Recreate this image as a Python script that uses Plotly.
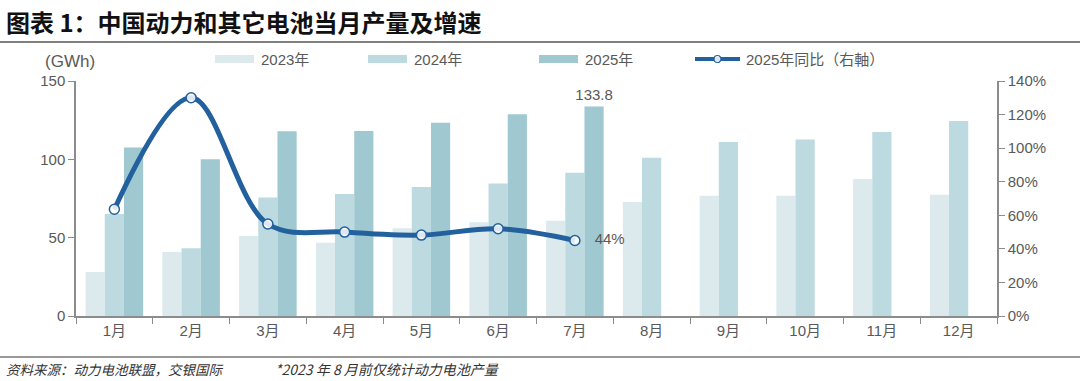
import plotly.graph_objects as go

months = ["1月", "2月", "3月", "4月", "5月", "6月", "7月", "8月", "9月", "10月", "11月", "12月"]
v2023 = [28.1, 40.8, 51.1, 46.8, 56.0, 59.8, 60.8, 72.8, 76.8, 76.8, 87.4, 77.4]
v2024 = [65.1, 43.2, 75.7, 77.9, 82.3, 84.5, 91.5, 101.0, 111.0, 112.7, 117.4, 124.4]
v2025 = [107.6, 100.0, 118.0, 118.1, 123.4, 128.7, 133.8]
yoy2025 = [63.6, 130.0, 54.8, 50.0, 48.2, 52.0, 45.0]
last_yoy_label = "44%"
series_names = ["2023年", "2024年", "2025年", "2025年同比（右軸）"]
left_ticks = [0, 50, 100, 150]
right_ticks = [0, 20, 40, 60, 80, 100, 120, 140]

W, H = 1080, 381
L, R, T, B = 76, 997, 81, 316

c23, c24, c25, cl = "#DCEAEE", "#BCDADF", "#9FC8D0", "#22609E"
FONT = "Liberation Sans, Noto Sans CJK SC, sans-serif"
CJK = "Noto Sans CJK SC, sans-serif"
grey = "#595959"

fig = go.Figure()
fig.add_bar(x=months, y=v2023, name=series_names[0], marker_color=c23, marker_line_width=0)
fig.add_bar(x=months, y=v2024, name=series_names[1], marker_color=c24, marker_line_width=0)
lbl = ["" for _ in v2025]
lbl[-1] = f"{v2025[-1]:.1f}"
fig.add_bar(x=months[:len(v2025)], y=v2025, name=series_names[2], marker_color=c25, marker_line_width=0,
            text=lbl, textposition="outside", constraintext="none",
            textfont=dict(size=15, color=grey, family=FONT), cliponaxis=False)
ltxt = ["" for _ in yoy2025]
ltxt[-1] = "   " + last_yoy_label
fig.add_scatter(x=months[:len(yoy2025)], y=yoy2025, yaxis="y2", name=series_names[3],
                mode="lines+markers+text", text=ltxt, textposition="middle right",
                textfont=dict(size=15, color=grey, family=FONT),
                line=dict(color=cl, width=5, shape="spline", smoothing=1.0),
                marker=dict(symbol="circle", size=10, color="rgba(255,255,255,0.85)", line=dict(color=cl, width=1.5)),
                cliponaxis=False)

def px(x):
    return (x - L) / (R - L)

def py(y):
    return (B - y) / (B - T)

shapes = []
annotations = []
leg = [(215, c23, series_names[0]), (368, c24, series_names[1]), (539, c25, series_names[2])]
for x0, col, name in leg:
    shapes.append(dict(type="rect", xref="paper", yref="paper", x0=px(x0), x1=px(x0 + 39),
                       y0=py(63), y1=py(55), fillcolor=col, line_width=0))
    annotations.append(dict(xref="paper", yref="paper", x=px(x0 + 44), y=py(59), text=name,
                            showarrow=False, xanchor="left", yanchor="middle",
                            font=dict(size=15, color=grey, family=FONT)))
shapes.append(dict(type="line", xref="paper", yref="paper", x0=px(695), x1=px(740), y0=py(59), y1=py(59),
                   line=dict(color=cl, width=4)))
shapes.append(dict(type="circle", xref="paper", yref="paper", x0=px(714), x1=px(721), y0=py(62.5), y1=py(55.5),
                   fillcolor="rgba(255,255,255,0.85)", line=dict(color=cl, width=1.2)))
annotations.append(dict(xref="paper", yref="paper", x=px(744), y=py(59), text=series_names[3],
                        showarrow=False, xanchor="left", yanchor="middle",
                        font=dict(size=15, color=grey, family=FONT)))
annotations.append(dict(xref="paper", yref="paper", x=px(4), y=py(21), text="<b>图表 1：中国动力和其它电池当月产量及增速</b>",
                        showarrow=False, xanchor="left", yanchor="middle",
                        font=dict(size=24, color="#111111", family=CJK)))
shapes.append(dict(type="line", xref="paper", yref="paper", x0=px(0), x1=px(W), y0=py(42), y1=py(42),
                   line=dict(color="#555555", width=1.5)))
shapes.append(dict(type="line", xref="paper", yref="paper", x0=px(0), x1=px(W), y0=py(357), y1=py(357),
                   line=dict(color="#333333", width=1.2)))
annotations.append(dict(xref="paper", yref="paper", x=px(4), y=py(369),
                        text="<i>资料来源：动力电池联盟，交银国际</i>",
                        showarrow=False, xanchor="left", yanchor="middle",
                        font=dict(size=13.5, color="#333333", family=CJK)))
annotations.append(dict(xref="paper", yref="paper", x=px(273), y=py(369),
                        text="<i>*2023 年 8 月前仅统计动力电池产量</i>",
                        showarrow=False, xanchor="left", yanchor="middle",
                        font=dict(size=14, color="#333333", family=CJK)))
annotations.append(dict(xref="paper", yref="paper", x=px(70), y=py(61), text="(GWh)",
                        showarrow=False, xanchor="center", yanchor="middle",
                        font=dict(size=17, color=grey, family=FONT)))

axis_common = dict(showline=True, linecolor="#8c8c8c", linewidth=1.5, ticks="outside", ticklen=6,
                   tickcolor="#8c8c8c", showgrid=False, zeroline=False, automargin=False,
                   tickfont=dict(size=15, color=grey))
fig.update_layout(
    width=W, height=H, margin=dict(l=L, r=W - R, t=T, b=H - B, autoexpand=False),
    paper_bgcolor="white", plot_bgcolor="white",
    barmode="group", bargap=0.25, bargroupgap=0,
    showlegend=False, shapes=shapes, annotations=annotations,
    font=dict(family=FONT, color=grey, size=14),
    xaxis=dict(type="category", tickson="boundaries", range=[-0.5, len(months) - 0.5], **axis_common),
    yaxis=dict(range=[0, 150], tickvals=left_ticks, ticktext=[str(v) for v in left_ticks], **axis_common),
    yaxis2=dict(range=[0, 140], tickvals=right_ticks, ticktext=[f"{v}%" for v in right_ticks],
                overlaying="y", side="right", **axis_common),
)

fig.write_html("out.html", config={"displayModeBar": False},
               post_script="document.body.style.margin='0px';document.body.style.overflow='hidden';")
